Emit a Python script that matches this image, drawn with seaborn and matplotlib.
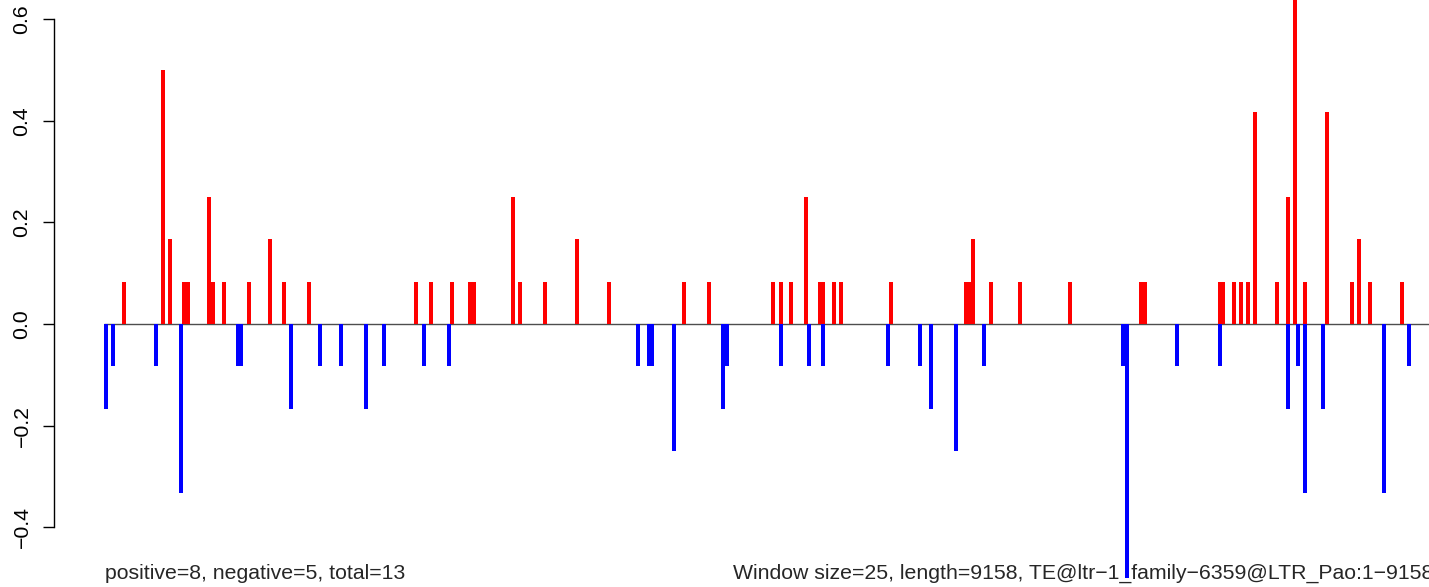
import matplotlib
matplotlib.use('Agg')
import numpy as np
import pandas as pd
import matplotlib.pyplot as plt
import seaborn as sns

# window index / score of windows with positive score
pos_window = [6, 17, 19, 23, 24, 30, 31, 34, 41, 47, 51, 58, 88, 92, 98, 103, 104, 115, 117, 124,
              133, 142, 163, 170, 188, 190, 193, 197, 201, 202, 205, 207, 221, 242, 243, 244, 249,
              257, 271, 291, 292, 313, 314, 317, 319, 321, 323, 329, 332, 334, 337, 343, 350, 352,
              355, 364]
pos_score = [0.083, 0.5, 0.167, 0.083, 0.083, 0.25, 0.083, 0.083, 0.083, 0.167, 0.083, 0.083,
             0.083, 0.083, 0.083, 0.083, 0.083, 0.25, 0.083, 0.083, 0.167, 0.083, 0.083, 0.083,
             0.083, 0.083, 0.083, 0.25, 0.083, 0.083, 0.083, 0.083, 0.083, 0.083, 0.083, 0.167,
             0.083, 0.083, 0.083, 0.083, 0.083, 0.083, 0.083, 0.083, 0.083, 0.083, 0.417, 0.083,
             0.25, 0.667, 0.083, 0.417, 0.083, 0.167, 0.083, 0.083]

# windows with negative score
neg_window = [1, 3, 15, 22, 38, 39, 53, 61, 67, 74, 79, 90, 97, 150, 153, 154, 160, 174, 175,
              190, 198, 202, 220, 229, 232, 239, 247, 286, 287, 301, 313, 332, 335, 337, 342,
              359, 366]
neg_score = [-0.167, -0.083, -0.083, -0.333, -0.083, -0.083, -0.167, -0.083, -0.083, -0.167,
             -0.083, -0.083, -0.083, -0.083, -0.083, -0.083, -0.25, -0.167, -0.083, -0.083,
             -0.083, -0.083, -0.083, -0.083, -0.167, -0.25, -0.083, -0.083, -0.5, -0.083,
             -0.083, -0.167, -0.083, -0.333, -0.167, -0.333, -0.083]

ytick_vals = [-0.4, -0.2, 0.0, 0.2, 0.4, 0.6]
ytick_labels = ['\u22120.4', '\u22120.2', '0.0', '0.2', '0.4', '0.6']

left_text = 'positive=8, negative=5, total=13'
right_text = 'Window size=25, length=9158, TE@ltr\u22121_family\u22126359@LTR_Pao:1\u22129158'

sns.set_style('white')
plt.rcParams['font.family'] = ['Liberation Sans', 'DejaVu Sans']

W, H = 1429, 587
fig = plt.figure(figsize=(W / 100, H / 100), dpi=100)
ax = fig.add_axes([53.7 / W, 0, 1 - 53.7 / W, 1])

pos = pd.DataFrame({'window': pos_window, 'score': pos_score})
neg = pd.DataFrame({'window': neg_window, 'score': neg_score})

sns.barplot(data=pos, x='window', y='score', native_scale=True, color='#ff0000',
            saturation=1, width=1.12, linewidth=0, errorbar=None, ax=ax)
sns.barplot(data=neg, x='window', y='score', native_scale=True, color='#0000ff',
            saturation=1, width=1.12, linewidth=0, errorbar=None, ax=ax)

# zero line
ax.hlines(0, 0.4, 400, color='#4d4d4d', lw=1.0, zorder=0)

ax.set_xlim(-13.6, 371.6)
ax.set_ylim(-0.518, 0.638)
ax.xaxis.set_visible(False)
ax.set_ylabel('')
for s in ['top', 'right', 'bottom']:
    ax.spines[s].set_visible(False)
ax.spines['left'].set_bounds(-0.4, 0.6)
ax.spines['left'].set_linewidth(1.0)
ax.spines['left'].set_color('black')
ax.set_yticks(ytick_vals)
ax.set_yticklabels(ytick_labels)
ax.tick_params(axis='y', direction='out', length=8, width=1.0, pad=8,
               labelsize=15.3, labelrotation=90, left=True, colors='black')
for lab in ax.get_yticklabels():
    lab.set_va('center')

fig.text(105 / W, 1 - 579 / H, left_text, fontsize=15.3, va='baseline', ha='left')
fig.text(733 / W, 1 - 579 / H, right_text, fontsize=15.3, va='baseline', ha='left')

fig.savefig('out.png', dpi=100)
